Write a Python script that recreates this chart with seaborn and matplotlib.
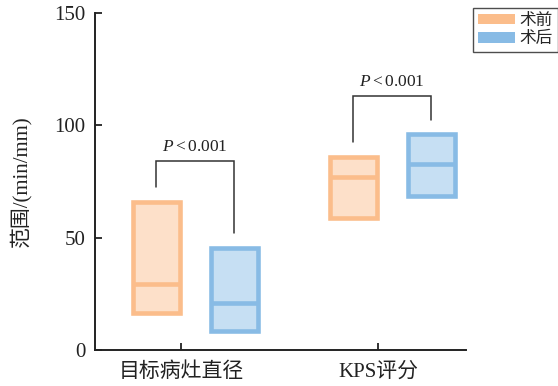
"""Range bars before / after surgery"""
import seaborn as sns
import matplotlib.pyplot as plt
from matplotlib.patches import Patch
import pandas as pd
import numpy as np

ORANGE_EDGE, ORANGE_FILL = '#fbbd8b', '#fde0c9'
BLUE_EDGE, BLUE_FILL = '#88bbe5', '#c6dff3'

sns.set_theme(style='ticks')
plt.rcParams['font.family'] = ['Liberation Serif', 'Noto Sans CJK SC']
plt.rcParams['mathtext.fontset'] = 'custom'
plt.rcParams['mathtext.rm'] = 'Liberation Serif'
plt.rcParams['mathtext.it'] = 'Liberation Serif:italic'

groups = ['目标病灶直径', 'KPS评分']
series = ['术前', '术后']
low = {'术前': [16.5, 59.0], '术后': [8.5, 68.5]}
mid = {'术前': [29.5, 77.0], '术后': [21.0, 83.0]}
high = {'术前': [66.0, 86.0], '术后': [45.5, 96.0]}
p_text = ['$P<0.001$', '$P<0.001$']
bracket_top = [84, 113]

rows = []
for s in series:
    for g, lo, md, hi in zip(groups, low[s], mid[s], high[s]):
        rows.append({'group': g, 'stage': s, 'low': lo, 'mid': md, 'high': hi})
df = pd.DataFrame(rows)

offsets = {'术前': -0.125, '术后': 0.27}
edges = {'术前': ORANGE_EDGE, '术后': BLUE_EDGE}
fills = {'术前': ORANGE_FILL, '术后': BLUE_FILL}
width = 0.24

fig = plt.figure(figsize=(5.58, 3.86), dpi=100)
ax = fig.add_axes([0.170, 0.093, 0.665, 0.873])

for s in series:
    sub = df[df['stage'] == s]
    xs = np.array([groups.index(g) for g in sub['group']]) + offsets[s]
    ax.bar(xs, sub['high'] - sub['low'], bottom=sub['low'], width=width,
           facecolor=fills[s], edgecolor=edges[s], linewidth=3.3, zorder=2)
    ax.hlines(sub['mid'], xs - width / 2, xs + width / 2,
              color=edges[s], linewidth=3.3, zorder=3)

# significance brackets
gap = 6.5
for i, g in enumerate(groups):
    xl = i + offsets['术前']
    xr = i + offsets['术后']
    yl = df[(df.group == g) & (df.stage == '术前')]['high'].iloc[0] + gap
    yr = df[(df.group == g) & (df.stage == '术后')]['high'].iloc[0] + gap
    yt = bracket_top[i]
    ax.plot([xl, xl, xr, xr], [yl, yt, yt, yr], color='#333333', lw=1.1,
            solid_joinstyle='miter', zorder=4)
    ax.text((xl + xr) / 2, yt + 3.0, p_text[i], ha='center', va='bottom',
            fontsize=12.5, color='#222222')

ax.set_xlim(-0.437, 1.446)
ax.set_ylim(0, 150)
ax.set_yticks([0, 50, 100, 150])
ax.set_xticks(range(len(groups)))
ax.set_xticklabels(groups)
ax.tick_params(direction='in', length=5, width=1.3, colors='#222222',
               labelsize=15, pad=7)
ax.tick_params(axis='x', pad=9)
for sp in ['top', 'right']:
    ax.spines[sp].set_visible(False)
for sp in ['left', 'bottom']:
    ax.spines[sp].set_linewidth(1.4)
    ax.spines[sp].set_color('#222222')
ax.set_ylabel('范围/(min/mm)', fontsize=15, color='#222222', labelpad=16)

handles = [Patch(facecolor=edges[s], edgecolor='none') for s in series]
leg = fig.legend(handles, series, loc='upper right', bbox_to_anchor=(1.0, 0.98),
                 fontsize=12, frameon=True, fancybox=False, borderaxespad=0,
                 handlelength=2.2, handleheight=0.6, handletextpad=0.3,
                 labelspacing=0.15, borderpad=0.3)
leg.get_frame().set_edgecolor('#222222')
leg.get_frame().set_linewidth(1.0)

plt.savefig('out.png', dpi=100)
